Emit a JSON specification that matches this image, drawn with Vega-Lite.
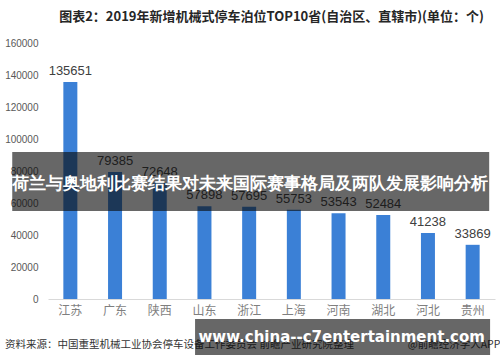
{
  "$schema": "https://vega.github.io/schema/vega-lite/v6.json",
  "width": 447,
  "height": 256,
  "autosize": {"type": "none"},
  "padding": {"left": 48, "top": 43, "right": 5, "bottom": 63},
  "background": "white",
  "config": {
    "view": {"stroke": null},
    "font": "Noto Sans CJK SC"
  },
  "title": {
    "text": "图表2：2019年新增机械式停车泊位TOP10省(自治区、直辖市)(单位：个)",
    "fontSize": 13,
    "fontWeight": "bold",
    "color": "#262626",
    "anchor": "middle",
    "offset": 14,
    "font": "Noto Sans CJK SC"
  },
  "datasets": {
    "bars": [
      {"province": "江苏", "value": 135651},
      {"province": "广东", "value": 79385},
      {"province": "陕西", "value": 72648},
      {"province": "山东", "value": 57898},
      {"province": "浙江", "value": 57695},
      {"province": "上海", "value": 55753},
      {"province": "河南", "value": 53543},
      {"province": "湖北", "value": 52484},
      {"province": "河北", "value": 41238},
      {"province": "贵州", "value": 33869}
    ],
    "sourceLeft": [
      {"fx": -0.096, "fy": -28750, "text": "资料来源：中国重型机械工业协会停车设备工作委员会 前瞻产业研究院整理"}
    ],
    "sourceRight": [
      {"fx": 1.012, "fy": -28750, "text": "@前瞻经济学人APP"}
    ],
    "banners": [
      {"x1": -0.08, "x2": 0.987, "y1": 55000, "y2": 91875, "tx": 0.452, "ty": 71875, "text": "荷兰与奥地利比赛结果对未来国际赛事格局及两队发展影响分析", "size": 17},
      {"x1": 0.329, "x2": 0.989, "y1": -35000, "y2": -12500, "tx": 0.657, "ty": -23750, "text": "www.china--c7entertainment.com", "size": 15}
    ]
  },
  "layer": [
    {
      "data": {"name": "bars"},
      "encoding": {
        "x": {
          "field": "province", "type": "nominal", "sort": null,
          "axis": {"title": null, "labelAngle": 0, "ticks": false, "domainColor": "#d9d9d9", "labelColor": "#7f7f7f", "labelFontSize": 12, "labelPadding": 6, "labelFont": "Noto Sans CJK SC"}
        },
        "y": {
          "field": "value", "type": "quantitative",
          "scale": {"domain": [0, 160000], "nice": false},
          "axis": {"title": null, "format": "d", "values": [0, 20000, 40000, 60000, 80000, 100000, 120000, 140000, 160000], "labelOverlap": false, "grid": false, "ticks": false, "domain": false, "labelColor": "#595959", "labelFontSize": 10, "labelPadding": 10, "labelFont": "Liberation Sans"}
        }
      },
      "layer": [
        {"mark": {"type": "bar", "color": "#3b80d6", "size": 14}},
        {
          "mark": {"type": "text", "baseline": "bottom", "dy": -4, "fontSize": 13, "color": "#404040", "font": "Liberation Sans"},
          "encoding": {"text": {"field": "value", "type": "quantitative", "format": "d"}}
        }
      ]
    },
    {
      "data": {"name": "sourceLeft"},
      "mark": {"type": "text", "baseline": "middle", "align": "left", "fontSize": 10.5, "color": "#333333", "font": "Noto Sans CJK SC"},
      "encoding": {
        "x": {"field": "fx", "type": "quantitative", "scale": {"domain": [0, 1], "nice": false}, "axis": null},
        "y": {"field": "fy", "type": "quantitative", "scale": {"domain": [0, 160000], "nice": false, "zero": false}, "axis": null},
        "text": {"field": "text"}
      }
    },
    {
      "data": {"name": "sourceRight"},
      "mark": {"type": "text", "baseline": "middle", "align": "right", "fontSize": 10.5, "color": "#333333", "font": "Noto Sans CJK SC"},
      "encoding": {
        "x": {"field": "fx", "type": "quantitative", "scale": {"domain": [0, 1], "nice": false}, "axis": null},
        "y": {"field": "fy", "type": "quantitative", "scale": {"domain": [0, 160000], "nice": false, "zero": false}, "axis": null},
        "text": {"field": "text"}
      }
    },
    {
      "data": {"name": "banners"},
      "mark": {"type": "rect", "color": "#0a0a0a", "opacity": 0.62},
      "encoding": {
        "x": {"field": "x1", "type": "quantitative", "scale": {"domain": [0, 1], "nice": false}, "axis": null},
        "x2": {"field": "x2"},
        "y": {"field": "y1", "type": "quantitative", "scale": {"domain": [0, 160000], "nice": false, "zero": false}, "axis": null},
        "y2": {"field": "y2"}
      }
    },
    {
      "data": {"name": "banners"},
      "mark": {"type": "text", "baseline": "middle", "align": "center", "color": "white", "fontWeight": "bold", "font": "DejaVu Sans"},
      "encoding": {
        "x": {"field": "tx", "type": "quantitative", "scale": {"domain": [0, 1], "nice": false}, "axis": null},
        "y": {"field": "ty", "type": "quantitative", "scale": {"domain": [0, 160000], "nice": false, "zero": false}, "axis": null},
        "text": {"field": "text"},
        "size": {"field": "size", "type": "quantitative", "scale": null}
      }
    }
  ],
  "resolve": {"scale": {"x": "independent", "y": "independent"}, "axis": {"x": "independent", "y": "independent"}}
}
